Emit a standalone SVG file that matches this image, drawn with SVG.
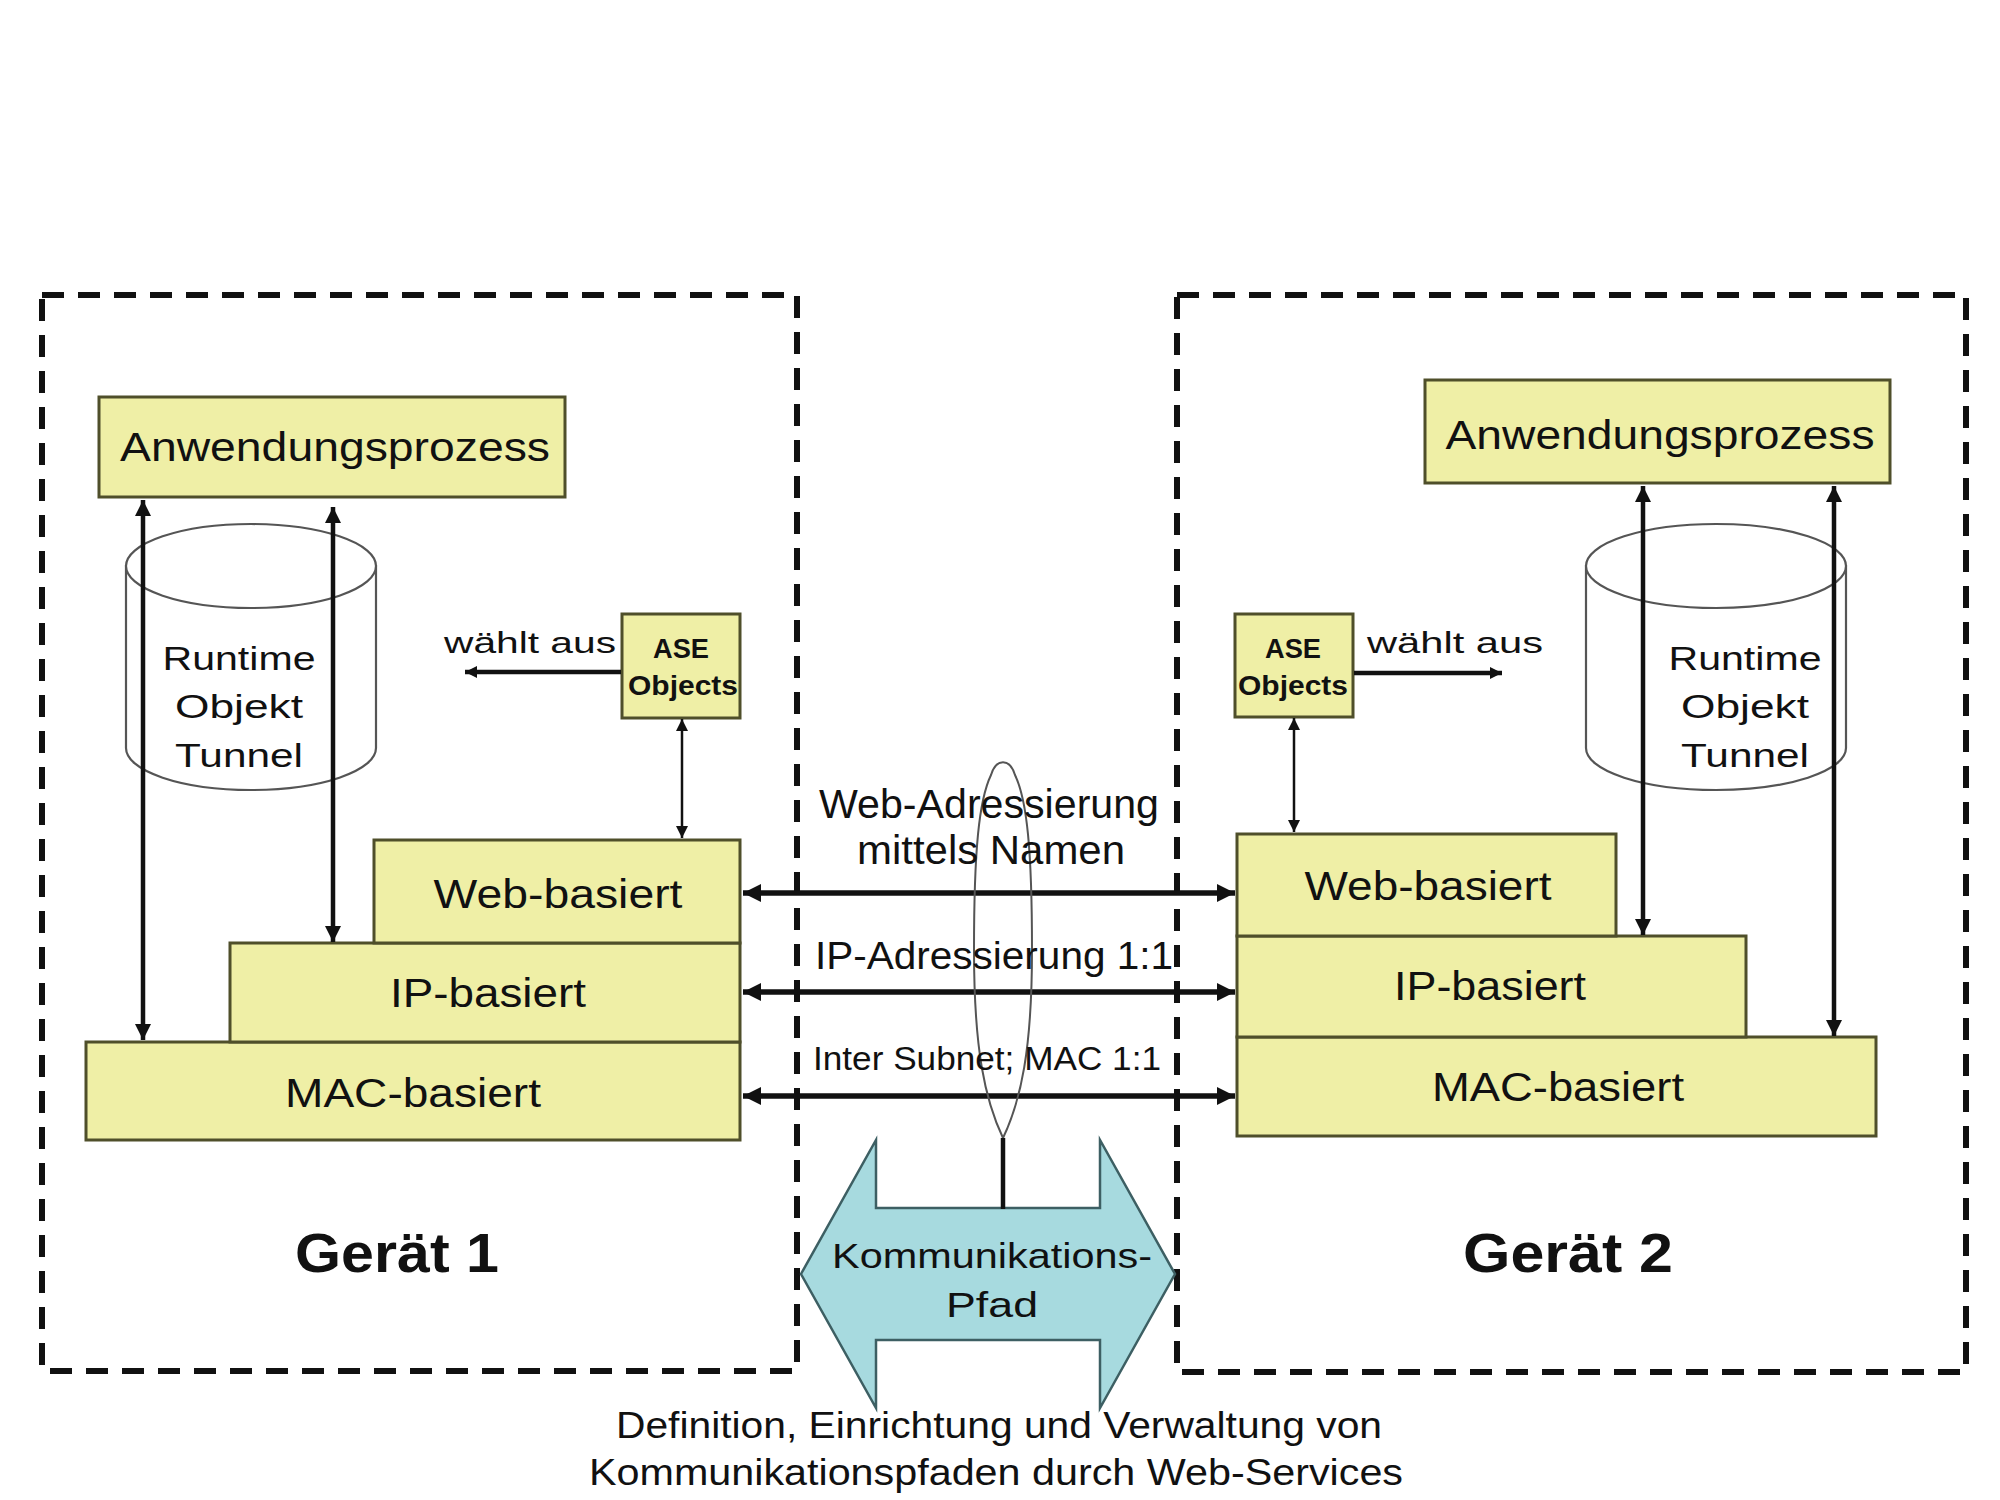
<svg xmlns="http://www.w3.org/2000/svg" width="2000" height="1500" viewBox="0 0 2000 1500">
<defs>
<style>
.t{font-family:"Liberation Sans",Arial,sans-serif;fill:#111;text-anchor:middle}
.box{fill:#efefa6;stroke:#4f4f2a;stroke-width:3}
.dash{fill:none;stroke:#111;stroke-width:6;stroke-dasharray:22 14}
.cyl{fill:#fff;stroke:#555;stroke-width:2.2}
.thick{stroke:#111;stroke-width:5.5;fill:none}
.mid{stroke:#111;stroke-width:4.5;fill:none}
.thin{stroke:#111;stroke-width:2.5;fill:none}
</style>
<marker id="ahL" viewBox="0 0 10 10" refX="10" refY="5" markerWidth="22" markerHeight="18" markerUnits="userSpaceOnUse" orient="auto-start-reverse"><path d="M0,0 L10,5 L0,10 z" fill="#111"/></marker>
<marker id="ahM" viewBox="0 0 10 10" refX="10" refY="5" markerWidth="20" markerHeight="16" markerUnits="userSpaceOnUse" orient="auto-start-reverse"><path d="M0,0 L10,5 L0,10 z" fill="#111"/></marker>
<marker id="ahS" viewBox="0 0 10 10" refX="10" refY="5" markerWidth="14" markerHeight="12" markerUnits="userSpaceOnUse" orient="auto-start-reverse"><path d="M0,0 L10,5 L0,10 z" fill="#111"/></marker>
</defs>
<rect width="2000" height="1500" fill="#fff"/>

<g id="geraet1-frame">
<rect class="dash" x="42" y="295" width="755" height="1076"/>
<text class="t" x="397" y="1272" font-size="56" font-weight="bold" textLength="204" lengthAdjust="spacingAndGlyphs">Gerät 1</text>
</g>
<g id="geraet2-frame">
<rect class="dash" x="1177" y="295" width="789" height="1077"/>
<text class="t" x="1568" y="1272" font-size="56" font-weight="bold" textLength="210" lengthAdjust="spacingAndGlyphs">Gerät 2</text>
</g>

<g id="cyl1">
<path class="cyl" d="M126,566 L126,748 A125,42 0 0 0 376,748 L376,566 Z"/>
<ellipse class="cyl" cx="251" cy="566" rx="125" ry="42"/>
<text class="t" x="239" y="670" font-size="34" textLength="153" lengthAdjust="spacingAndGlyphs">Runtime</text>
<text class="t" x="239" y="718" font-size="34" textLength="128" lengthAdjust="spacingAndGlyphs">Objekt</text>
<text class="t" x="239" y="767" font-size="34" textLength="128" lengthAdjust="spacingAndGlyphs">Tunnel</text>
</g>
<g id="cyl2">
<path class="cyl" d="M1586,566 L1586,748 A130,42 0 0 0 1846,748 L1846,566 Z"/>
<ellipse class="cyl" cx="1716" cy="566" rx="130" ry="42"/>
<text class="t" x="1745" y="670" font-size="34" textLength="153" lengthAdjust="spacingAndGlyphs">Runtime</text>
<text class="t" x="1745" y="718" font-size="34" textLength="128" lengthAdjust="spacingAndGlyphs">Objekt</text>
<text class="t" x="1745" y="767" font-size="34" textLength="128" lengthAdjust="spacingAndGlyphs">Tunnel</text>
</g>

<g id="app1">
<rect class="box" x="99" y="397" width="466" height="100"/>
<text class="t" x="335" y="461" font-size="41" textLength="430" lengthAdjust="spacingAndGlyphs">Anwendungsprozess</text>
</g>
<g id="app2">
<rect class="box" x="1425" y="380" width="465" height="103"/>
<text class="t" x="1660" y="449" font-size="41" textLength="429" lengthAdjust="spacingAndGlyphs">Anwendungsprozess</text>
</g>

<g id="mac1">
<rect class="box" x="86" y="1042" width="654" height="98"/>
<text class="t" x="413" y="1107" font-size="40" textLength="256" lengthAdjust="spacingAndGlyphs">MAC-basiert</text>
</g>
<g id="ip1">
<rect class="box" x="230" y="943" width="510" height="99"/>
<text class="t" x="488" y="1007" font-size="40" textLength="196" lengthAdjust="spacingAndGlyphs">IP-basiert</text>
</g>
<g id="web1">
<rect class="box" x="374" y="840" width="366" height="103"/>
<text class="t" x="558" y="908" font-size="40" textLength="249" lengthAdjust="spacingAndGlyphs">Web-basiert</text>
</g>

<g id="mac2">
<rect class="box" x="1237" y="1037" width="639" height="99"/>
<text class="t" x="1558" y="1101" font-size="40" textLength="252" lengthAdjust="spacingAndGlyphs">MAC-basiert</text>
</g>
<g id="ip2">
<rect class="box" x="1237" y="936" width="509" height="101"/>
<text class="t" x="1490" y="1000" font-size="40" textLength="192" lengthAdjust="spacingAndGlyphs">IP-basiert</text>
</g>
<g id="web2">
<rect class="box" x="1237" y="834" width="379" height="102"/>
<text class="t" x="1428" y="900" font-size="40" textLength="247" lengthAdjust="spacingAndGlyphs">Web-basiert</text>
</g>

<g id="ase1">
<rect class="box" x="622" y="614" width="118" height="104"/>
<text class="t" x="681" y="658" font-size="27" font-weight="bold" textLength="56" lengthAdjust="spacingAndGlyphs">ASE</text>
<text class="t" x="683" y="695" font-size="27" font-weight="bold" textLength="110" lengthAdjust="spacingAndGlyphs">Objects</text>
</g>
<g id="ase2">
<rect class="box" x="1235" y="614" width="118" height="103"/>
<text class="t" x="1293" y="658" font-size="27" font-weight="bold" textLength="56" lengthAdjust="spacingAndGlyphs">ASE</text>
<text class="t" x="1293" y="695" font-size="27" font-weight="bold" textLength="110" lengthAdjust="spacingAndGlyphs">Objects</text>
</g>

<g id="kommunikationspfad">
<polygon points="801,1274 876,1140 876,1208 1100,1208 1100,1140 1175,1274 1100,1408 1100,1340 876,1340 876,1408" fill="#a7dadf" stroke="#3d5f63" stroke-width="2.5"/>
<text class="t" x="992" y="1268" font-size="35" textLength="320" lengthAdjust="spacingAndGlyphs">Kommunikations-</text>
<text class="t" x="992" y="1317" font-size="35" textLength="92" lengthAdjust="spacingAndGlyphs">Pfad</text>
</g>

<g id="connectors">
<line class="mid" x1="143" y1="500" x2="143" y2="1040" marker-start="url(#ahM)" marker-end="url(#ahM)"/>
<line class="mid" x1="333" y1="507" x2="333" y2="942" marker-start="url(#ahM)" marker-end="url(#ahM)"/>
<line class="mid" x1="1643" y1="486" x2="1643" y2="935" marker-start="url(#ahM)" marker-end="url(#ahM)"/>
<line class="mid" x1="1834" y1="486" x2="1834" y2="1036" marker-start="url(#ahM)" marker-end="url(#ahM)"/>
<line class="thin" x1="682" y1="719" x2="682" y2="838" marker-start="url(#ahS)" marker-end="url(#ahS)"/>
<line class="thin" x1="1294" y1="718" x2="1294" y2="832" marker-start="url(#ahS)" marker-end="url(#ahS)"/>
<line class="mid" x1="621" y1="672" x2="465" y2="672" stroke-width="3.5" marker-end="url(#ahS)"/>
<line class="mid" x1="1354" y1="673" x2="1502" y2="673" stroke-width="3.5" marker-end="url(#ahS)"/>
<line class="thick" x1="743" y1="893" x2="1235" y2="893" marker-start="url(#ahL)" marker-end="url(#ahL)"/>
<line class="thick" x1="743" y1="992" x2="1235" y2="992" marker-start="url(#ahL)" marker-end="url(#ahL)"/>
<line class="thick" x1="743" y1="1096" x2="1235" y2="1096" marker-start="url(#ahL)" marker-end="url(#ahL)"/>
<path d="M1003,1138 C985,1100 974,1050 974,950 C974,850 979,800 991,775 C996,758 1010,758 1015,775 C1027,800 1032,850 1032,950 C1032,1050 1021,1100 1003,1138 Z" fill="none" stroke="#555" stroke-width="2"/>
<line class="mid" x1="1003" y1="1138" x2="1003" y2="1209" stroke-width="5"/>
</g>

<g id="labels">
<text class="t" x="530" y="653" font-size="30" textLength="172" lengthAdjust="spacingAndGlyphs">wählt aus</text>
<text class="t" x="1455" y="653" font-size="30" textLength="176" lengthAdjust="spacingAndGlyphs">wählt aus</text>
<text class="t" x="989" y="818" font-size="40" textLength="340" lengthAdjust="spacingAndGlyphs">Web-Adressierung</text>
<text class="t" x="991" y="864" font-size="40" textLength="268" lengthAdjust="spacingAndGlyphs">mittels Namen</text>
<text class="t" x="994" y="969" font-size="38" textLength="358" lengthAdjust="spacingAndGlyphs">IP-Adressierung 1:1</text>
<text class="t" x="987" y="1070" font-size="34" textLength="348" lengthAdjust="spacingAndGlyphs">Inter Subnet; MAC 1:1</text>
<text class="t" x="999" y="1438" font-size="36" textLength="766" lengthAdjust="spacingAndGlyphs">Definition, Einrichtung und Verwaltung von</text>
<text class="t" x="996" y="1485" font-size="36" textLength="814" lengthAdjust="spacingAndGlyphs">Kommunikationspfaden durch Web-Services</text>
</g>
</svg>
